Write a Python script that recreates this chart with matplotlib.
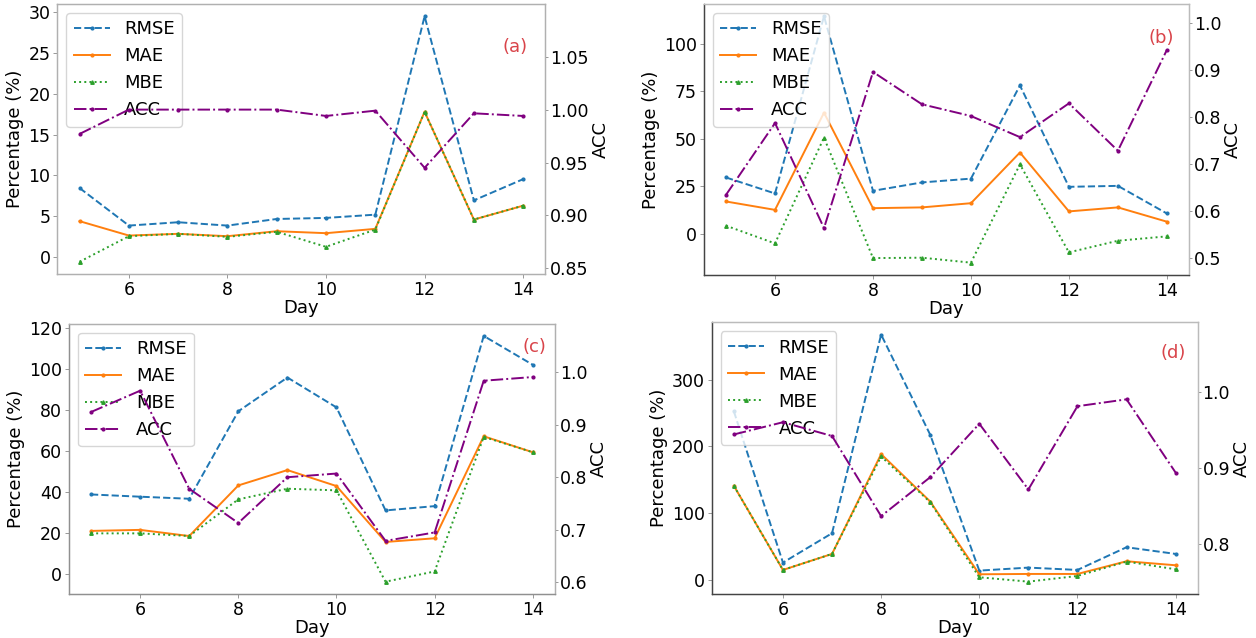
import matplotlib
matplotlib.use("Agg")
import matplotlib.pyplot as plt

days = [5, 6, 7, 8, 9, 10, 11, 12, 13, 14]

# Panel (a)
rmse_a = [8.46, 3.86, 4.27, 3.86, 4.67, 4.8, 5.2, 29.5, 6.95, 9.55]
mae_a = [4.4, 2.64, 2.85, 2.56, 3.17, 2.93, 3.46, 17.8, 4.6, 6.3]
mbe_a = [-0.57, 2.56, 2.85, 2.48, 3.1, 1.26, 3.37, 17.8, 4.6, 6.3]
acc_a = [0.977, 1.0, 1.0, 1.0, 1.0, 0.994, 0.999, 0.945, 0.9965, 0.994]

# Panel (b)
rmse_b = [29.7, 21.3, 114.3, 22.7, 27.1, 29.1, 78.0, 24.8, 25.3, 10.8]
mae_b = [17.1, 12.7, 63.7, 13.6, 14.0, 16.2, 42.8, 11.9, 14.0, 6.5]
mbe_b = [4.4, -4.9, 50.6, -12.6, -12.4, -15.0, 36.6, -9.6, -3.5, -1.2]
acc_b = [0.634, 0.787, 0.563, 0.896, 0.827, 0.802, 0.757, 0.829, 0.728, 0.943]

# Panel (c)
rmse_c = [38.9, 37.8, 36.8, 79.5, 96.0, 81.4, 31.1, 33.2, 116.3, 102.2]
mae_c = [21.1, 21.6, 18.6, 43.3, 50.8, 43.0, 15.7, 17.5, 67.3, 59.5]
mbe_c = [19.9, 19.9, 18.6, 36.5, 41.7, 40.9, -3.7, 1.3, 67.0, 59.5]
acc_c = [0.924, 0.9645, 0.778, 0.713, 0.800, 0.807, 0.679, 0.695, 0.9835, 0.9905]

# Panel (d)
rmse_d = [252.5, 26.0, 70.0, 367.5, 217.5, 14.0, 18.5, 15.0, 49.0, 39.0]
mae_d = [141.0, 15.0, 39.0, 188.5, 117.5, 8.5, 9.0, 9.0, 28.0, 22.0]
mbe_d = [141.0, 15.0, 39.0, 185.0, 116.5, 4.0, -2.5, 6.0, 27.5, 16.0]
acc_d = [0.944, 0.960, 0.942, 0.837, 0.888, 0.958, 0.872, 0.981, 0.990, 0.894]

panel_labels = ["(a)", "(b)", "(c)", "(d)"]
left_ticks = [[0, 5, 10, 15, 20, 25, 30], [0, 25, 50, 75, 100],
              [0, 20, 40, 60, 80, 100, 120], [0, 100, 200, 300]]
right_ticks = [[0.85, 0.90, 0.95, 1.00, 1.05], [0.5, 0.6, 0.7, 0.8, 0.9, 1.0],
               [0.6, 0.7, 0.8, 0.9, 1.0], [0.8, 0.9, 1.0]]
right_fmt = ["{:.2f}", "{:.1f}", "{:.1f}", "{:.1f}"]
right_lims = [(0.8446, 1.0998), (0.463, 1.041), (0.578, 1.092), (0.735, 1.091)]
x_ticks = [6, 8, 10, 12, 14]

positions = [
    [0.0457, 0.5705, 0.3885, 0.4232],
    [0.5605, 0.5690, 0.3861, 0.4248],
    [0.0549, 0.0690, 0.3869, 0.4237],
    [0.5667, 0.0690, 0.3869, 0.4259],
]
label_pos = [(0.937, 0.842), (0.942, 0.873), (0.957, 0.913), (0.950, 0.887)]
spine_colors = [("#b0b0b0", "#b0b0b0"), ("#444444", "#bbbbbb"),
                ("#909090", "#b0b0b0"), ("#444444", "#bbbbbb")]

data = [
    (rmse_a, mae_a, mbe_a, acc_a),
    (rmse_b, mae_b, mbe_b, acc_b),
    (rmse_c, mae_c, mbe_c, acc_c),
    (rmse_d, mae_d, mbe_d, acc_d),
]

fig = plt.figure(figsize=(12.56, 6.38), dpi=100)
TICK_FS = 12.5
LABEL_FS = 13

for i, (rmse, mae, mbe, acc) in enumerate(data):
    ax = fig.add_axes(positions[i])
    l1, = ax.plot(days, rmse, linestyle="--", color="#1f77b4", marker=".",
                  markersize=4, linewidth=1.4, label="RMSE")
    l2, = ax.plot(days, mae, linestyle="-", color="#ff7f0e", marker=".",
                  markersize=4, linewidth=1.4, label="MAE")
    l3, = ax.plot(days, mbe, linestyle=":", color="#2ca02c", marker="^",
                  markersize=2.5, linewidth=1.4, label="MBE")
    ax.set_yticks(left_ticks[i])
    ax.set_xticks(x_ticks)
    ax.set_xlabel("Day", fontsize=LABEL_FS, labelpad=0)
    ax.set_ylabel("Percentage (%)", fontsize=LABEL_FS, labelpad=3)
    ax.tick_params(labelsize=TICK_FS, length=3, width=0.6, pad=2,
                   color="#888888")

    ax2 = ax.twinx()
    l4, = ax2.plot(days, acc, linestyle="-.", color="purple", marker=".",
                   markersize=4, linewidth=1.4, label="ACC")
    ax2.set_ylim(*right_lims[i])
    ax2.set_yticks(right_ticks[i])
    ax2.set_yticklabels([right_fmt[i].format(v) for v in right_ticks[i]])
    ax2.set_ylabel("ACC", fontsize=LABEL_FS, labelpad=2)
    ax2.tick_params(labelsize=TICK_FS, length=2, width=0.6, pad=1.5,
                    color="#888888")

    dark, light = spine_colors[i]
    for a in (ax, ax2):
        a.spines["left"].set_color(dark)
        a.spines["bottom"].set_color(dark)
        a.spines["top"].set_color(light)
        a.spines["right"].set_color(light)
        for s in a.spines.values():
            s.set_linewidth(0.9)

    ax.legend(handles=[l1, l2, l3, l4], loc="upper left", fontsize=13,
              labelspacing=0.5, handlelength=2.0, handletextpad=0.8,
              borderpad=0.4, framealpha=0.8)
    ax.text(label_pos[i][0], label_pos[i][1], panel_labels[i],
            transform=ax.transAxes, color="#d9444a", fontsize=13,
            ha="center", va="center")

fig.savefig("out.png", dpi=100)
